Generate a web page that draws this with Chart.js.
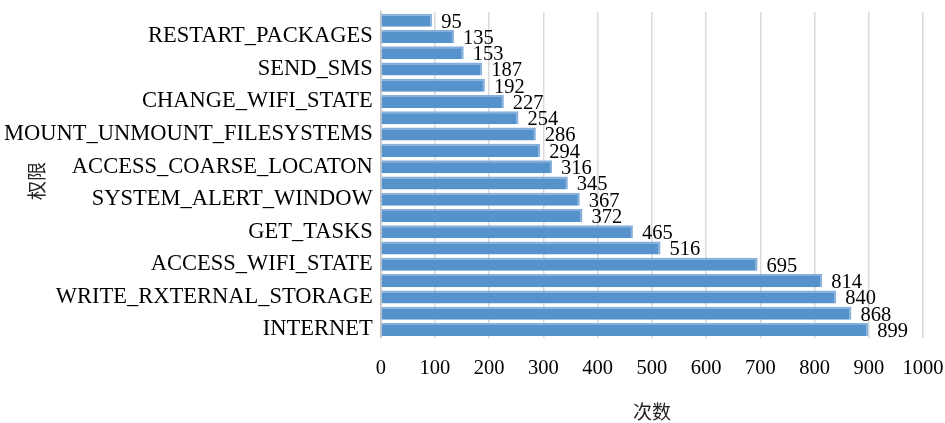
<!DOCTYPE html>
<html>
<head>
<meta charset="utf-8">
<script src="https://cdn.jsdelivr.net/npm/chart.js@4"></script>
<style>
  html, body { margin: 0; padding: 0; background: #fff; }
  #wrap { width: 945px; height: 423px; position: relative; }
</style>
</head>
<body>
<div id="wrap"><canvas id="permChart"></canvas></div>
<script>
// 权限 (top to bottom); unlabeled rows in the source are left blank
const permissions = [
  '', 'RESTART_PACKAGES', '', 'SEND_SMS', '', 'CHANGE_WIFI_STATE', '',
  'MOUNT_UNMOUNT_FILESYSTEMS', '', 'ACCESS_COARSE_LOCATON', '', 'SYSTEM_ALERT_WINDOW',
  '', 'GET_TASKS', '', 'ACCESS_WIFI_STATE', '', 'WRITE_RXTERNAL_STORAGE', '', 'INTERNET'
];
const counts = [95, 135, 153, 187, 192, 227, 254, 286, 294, 316, 345, 367, 372, 465, 516, 695, 814, 840, 868, 899];
const xTicks = [0, 100, 200, 300, 400, 500, 600, 700, 800, 900, 1000];

const SERIF = "'Liberation Serif', 'Times New Roman', serif";
const CJK = "'Noto Sans CJK SC', 'Liberation Serif', serif";

// value labels at the end of each bar
const valueLabels = {
  id: 'valueLabels',
  afterDatasetsDraw(chart) {
    const ctx = chart.ctx;
    ctx.save();
    ctx.font = '20.5px ' + SERIF;
    ctx.fillStyle = '#000';
    ctx.textAlign = 'left';
    ctx.textBaseline = 'middle';
    chart.getDatasetMeta(0).data.forEach((bar, i) => {
      ctx.fillText(String(counts[i]), bar.x + 9, bar.y + 2);
    });
    ctx.restore();
  }
};

// rotated y title drawn over the label column, like the source
const yTitle = {
  id: 'yTitle',
  afterDraw(chart) {
    const ctx = chart.ctx;
    ctx.save();
    ctx.font = '19px ' + CJK;
    ctx.fillStyle = '#222';
    ctx.textAlign = 'center';
    ctx.textBaseline = 'middle';
    ctx.translate(37, 181);
    ctx.rotate(-Math.PI / 2);
    ctx.fillText('权限', 0, 0);
    ctx.restore();
  }
};

new Chart(document.getElementById('permChart'), {
  type: 'bar',
  data: {
    labels: permissions,
    datasets: [{
      data: counts,
      backgroundColor: '#5692CC',
      borderColor: '#86B0DB',
      borderWidth: { top: 2, right: 2, bottom: 0, left: 0 },
      categoryPercentage: 0.8,
      barPercentage: 1
    }]
  },
  options: {
    indexAxis: 'y',
    responsive: true,
    maintainAspectRatio: false,
    animation: false,
    layout: { padding: { left: -4, right: 22, top: 12, bottom: 0 } },
    plugins: {
      legend: { display: false },
      tooltip: { enabled: false }
    },
    scales: {
      x: {
        min: 0,
        max: 1000,
        afterBuildTicks(axis) { axis.ticks = xTicks.map(v => ({ value: v })); },
        afterFit(axis) { axis.paddingRight = 0; axis.paddingLeft = 0; },
        grid: { color: '#D9D9D9', lineWidth: 1.5, drawTicks: false },
        border: { display: false },
        ticks: {
          padding: 19,
          color: '#000',
          font: { family: SERIF, size: 20.5 },
          callback: (v) => String(v)
        },
        title: {
          display: true,
          text: '次数',
          color: '#222',
          font: { family: CJK, size: 19 },
          padding: { top: 0, bottom: 0 }
        }
      },
      y: {
        afterFit(axis) { axis.paddingTop = 0; axis.paddingBottom = 0; },
        grid: { display: false, drawTicks: false },
        border: { display: true, color: '#BFBFBF', width: 1.5 },
        ticks: { autoSkip: false, padding: 8, color: '#000', font: { family: SERIF, size: 22.5 } }
      }
    }
  },
  plugins: [valueLabels, yTitle]
});
</script>
</body>
</html>
